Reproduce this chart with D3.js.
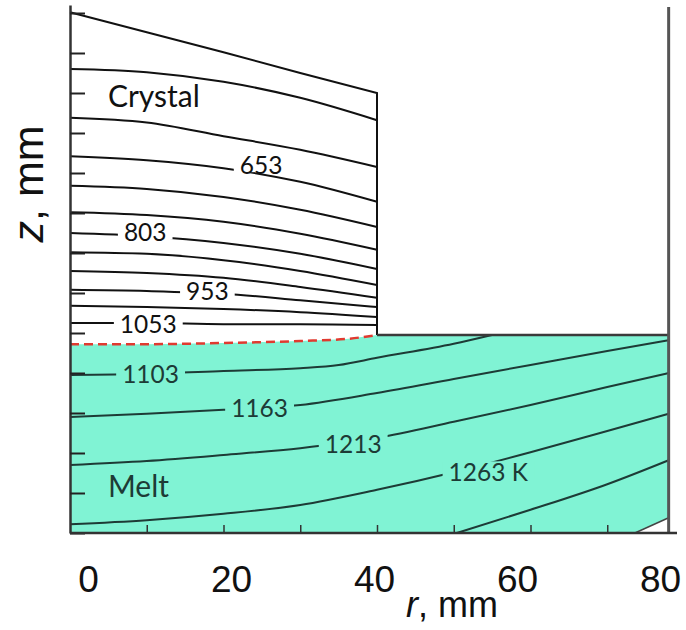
<!DOCTYPE html>
<html>
<head>
<meta charset="utf-8">
<script src="https://cdn.jsdelivr.net/npm/d3@7"></script>
<style>
  body { margin: 0; background: #fff; }
  svg { display: block; }
</style>
</head>
<body>
<div id="chart"></div>
<script>
// cell geometry, mm
const crystalRadius = 40;
const crucibleRadius = 78;
const meltLevel = 24.75;
const cornerCut = [[78, 1.9], [73.6, 0]];

// crystal top (slanted) and crystal/melt interface, [r, z]
const crystalTop = [[0, 65.1], [10, 62.6], [20, 60.1], [30, 57.5], [40, 55.0]];
const interfaceLine = [[0, 23.6], [10, 23.6], [20, 23.75], [30, 24.0], [36, 24.25], [40, 24.75]];

// isotherms in the crystal at r = 0,10,20,30,40
const crystalIsotherms = [
  [[0, 58.0], [10, 57.6], [20, 56.4], [30, 54.4], [40, 51.6]],
  [[0, 51.9], [10, 51.3], [20, 49.6], [30, 47.9], [40, 45.75]],
  [[0, 47.1], [10, 46.6], [20, 45.6], [30, 43.9], [40, 41.4]],   // 653
  [[0, 43.4], [10, 43.0], [20, 42.0], [30, 40.4], [40, 38.25]],
  [[0, 40.1], [10, 39.75], [20, 38.9], [30, 37.4], [40, 35.4]],
  [[0, 37.5], [10, 37.1], [20, 36.25], [30, 34.9], [40, 33.0]],  // 803
  [[0, 35.1], [10, 34.9], [20, 34.1], [30, 32.75], [40, 31.0]],
  [[0, 32.75], [10, 32.5], [20, 31.9], [30, 30.75], [40, 29.4]],
  [[0, 30.4], [10, 30.25], [20, 29.9], [30, 29.1], [40, 28.25]], // 953
  [[0, 28.4], [10, 28.25], [20, 28.0], [30, 27.6], [40, 27.0]],
  [[0, 26.25], [10, 26.25], [20, 26.1], [30, 26.1], [40, 26.0]]  // 1053
];

// isotherms in the melt
const meltIsotherms = [
  [[0, 19.75], [10, 19.9], [20, 20.25], [30, 20.6], [35, 21.0], [40, 21.9], [50, 23.65], [55, 24.75]], // 1103
  [[0, 14.5], [10, 14.9], [20, 15.4], [30, 16.0], [40, 17.5], [50, 19.25], [60, 21.0], [70, 22.75], [78, 24.1]], // 1163
  [[0, 8.5], [10, 9.0], [20, 9.75], [30, 10.6], [40, 11.9], [50, 13.9], [60, 16.0], [70, 18.25], [78, 20.0]], // 1213
  [[0, 1.1], [10, 1.6], [20, 2.4], [30, 3.5], [40, 5.4], [50, 7.6], [60, 10.1], [70, 12.75], [78, 14.9]], // 1263
  [[50.4, 0], [60, 2.9], [70, 6.1], [78, 9.1]]
];

const crystalLabels = ["653", "803", "953", "1053"];
const crystalLabelPos = [[24.9, 46.0], [9.8, 37.6], [17.9, 30.25], [10.2, 26.1]];
const meltLabels = ["1103", "1163", "1213", "1263 K"];
const meltLabelPos = [[10.5, 19.9], [24.7, 15.6], [36.9, 11.1], [54.5, 7.6]];

const zTicks = [0, 5, 10, 15, 20, 25, 30, 35, 40, 45, 50, 55, 60, 65];
const rTicks = [10, 20, 30, 40, 50, 60, 70];
const rTickLabels = [0, 20, 40, 60, 80];

const width = 686, height = 630;
const meltColor = "#80f3d4";
const meltInk = "#1d3b36";

const svg = d3.select("#chart").append("svg")
    .attr("width", width)
    .attr("height", height);

const x = d3.scaleLinear().domain([0, 80]).range([70, 684]);
const y = d3.scaleLinear().domain([0, 66]).range([533, 5]);
// the tick labels in the source figure do not sit exactly on the plot scale
const xLabel = d3.scaleLinear().domain([0, 80]).range([88, 660]);

const line = d3.line().x(d => x(d[0])).y(d => y(d[1]));
const curve = d3.line().x(d => x(d[0])).y(d => y(d[1])).curve(d3.curveMonotoneX);

// melt body
const meltShape = interfaceLine
  .concat([[crystalRadius, meltLevel], [crucibleRadius, meltLevel]])
  .concat(cornerCut)
  .concat([[0, 0]]);
svg.append("path")
    .attr("d", line(meltShape) + "Z")
    .attr("fill", meltColor);

// isotherms
svg.append("g")
    .attr("fill", "none")
    .attr("stroke", "#111")
    .attr("stroke-width", 2)
  .selectAll("path")
  .data(crystalIsotherms)
  .join("path")
    .attr("d", curve);

svg.append("g")
    .attr("fill", "none")
    .attr("stroke", meltInk)
    .attr("stroke-width", 2)
  .selectAll("path")
  .data(meltIsotherms)
  .join("path")
    .attr("d", curve);

// crystal outline
svg.append("path")
    .attr("d", line(crystalTop.concat([[crystalRadius, meltLevel]])))
    .attr("fill", "none")
    .attr("stroke", "#111")
    .attr("stroke-width", 2);

// melt free surface
svg.append("path")
    .attr("d", line([[crystalRadius, meltLevel], [crucibleRadius, meltLevel]]))
    .attr("stroke", "#3a3a3a")
    .attr("stroke-width", 2.5);

// crucible corner
svg.append("path")
    .attr("d", line(cornerCut))
    .attr("stroke", "#444")
    .attr("stroke-width", 1.5);

// crystal/melt interface
svg.append("path")
    .attr("d", curve(interfaceLine))
    .attr("fill", "none")
    .attr("stroke", "#e03a30")
    .attr("stroke-width", 2.5)
    .attr("stroke-dasharray", "9,5");

// contour labels, with a background band so the lines look broken
function addLabels(texts, pos, ink, bg) {
  const g = svg.append("g")
      .style("font", "24.5px Lato, 'Open Sans', sans-serif")
      .attr("fill", ink);
  texts.forEach((t, i) => {
    const text = g.append("text")
        .attr("x", x(pos[i][0]))
        .attr("y", y(pos[i][1]))
        .attr("text-anchor", "middle")
        .attr("dy", "0.36em")
        .text(t);
    const b = text.node().getBBox();
    g.insert("rect", "text")
        .attr("x", b.x - 6)
        .attr("y", b.y + b.height * 0.15)
        .attr("width", b.width + 12)
        .attr("height", b.height * 0.62)
        .attr("fill", bg);
  });
}
addLabels(crystalLabels, crystalLabelPos, "#111", "#fff");
addLabels(meltLabels, meltLabelPos, meltInk, meltColor);

svg.append("text")
    .attr("x", x(4.95))
    .attr("y", y(53.3))
    .style("font", "30px Lato, 'Open Sans', sans-serif")
    .attr("fill", "#111")
    .text("Crystal");

svg.append("text")
    .attr("x", x(4.95))
    .attr("y", y(4.5))
    .style("font", "30px Lato, 'Open Sans', sans-serif")
    .attr("fill", meltInk)
    .text("Melt");

// crucible wall
svg.append("line")
    .attr("x1", x(crucibleRadius)).attr("x2", x(crucibleRadius))
    .attr("y1", 7).attr("y2", y(0))
    .attr("stroke", "#555")
    .attr("stroke-width", 3);

// axes
const zAxis = svg.append("g")
    .attr("transform", `translate(${x(0)},0)`)
    .call(d3.axisLeft(y).tickValues(zTicks).tickSize(-15).tickSizeOuter(0).tickFormat(""));
zAxis.select(".domain").attr("stroke", "#333").attr("stroke-width", 2.5);
zAxis.selectAll(".tick line").attr("stroke", "#222").attr("stroke-width", 2);

const rAxis = svg.append("g")
    .attr("transform", `translate(0,${y(0)})`)
    .call(d3.axisBottom(x).tickValues(rTicks).tickSize(-8).tickFormat(""));
rAxis.select(".domain").remove();
rAxis.selectAll(".tick line").attr("stroke", "#333").attr("stroke-width", 1.5);

svg.append("line")
    .attr("x1", x(0)).attr("x2", 677)
    .attr("y1", y(0)).attr("y2", y(0))
    .attr("stroke", "#333")
    .attr("stroke-width", 2.5);

const rLabels = svg.append("g")
    .attr("transform", "translate(0,592)")
    .call(d3.axisBottom(xLabel).tickValues(rTickLabels).tickSize(0).tickFormat(d3.format("d")));
rLabels.select(".domain").remove();
rLabels.selectAll("text")
    .attr("y", 0)
    .attr("dy", null)
    .attr("fill", "#111")
    .style("font", "37px 'Liberation Sans', Arial, sans-serif");

// axis titles
const rTitle = svg.append("text")
    .attr("x", 452)
    .attr("y", 617)
    .attr("text-anchor", "middle")
    .attr("fill", "#111")
    .style("font", "36px 'Liberation Sans', Arial, sans-serif");
rTitle.append("tspan").style("font-style", "italic").text("r");
rTitle.append("tspan").text(", mm");

const zTitle = svg.append("text")
    .attr("transform", "translate(43,184) rotate(-90)")
    .attr("text-anchor", "middle")
    .attr("fill", "#111")
    .style("font", "43px 'Liberation Sans', Arial, sans-serif");
zTitle.append("tspan").style("font-style", "italic").text("z");
zTitle.append("tspan").text(", mm");
</script>
</body>
</html>
